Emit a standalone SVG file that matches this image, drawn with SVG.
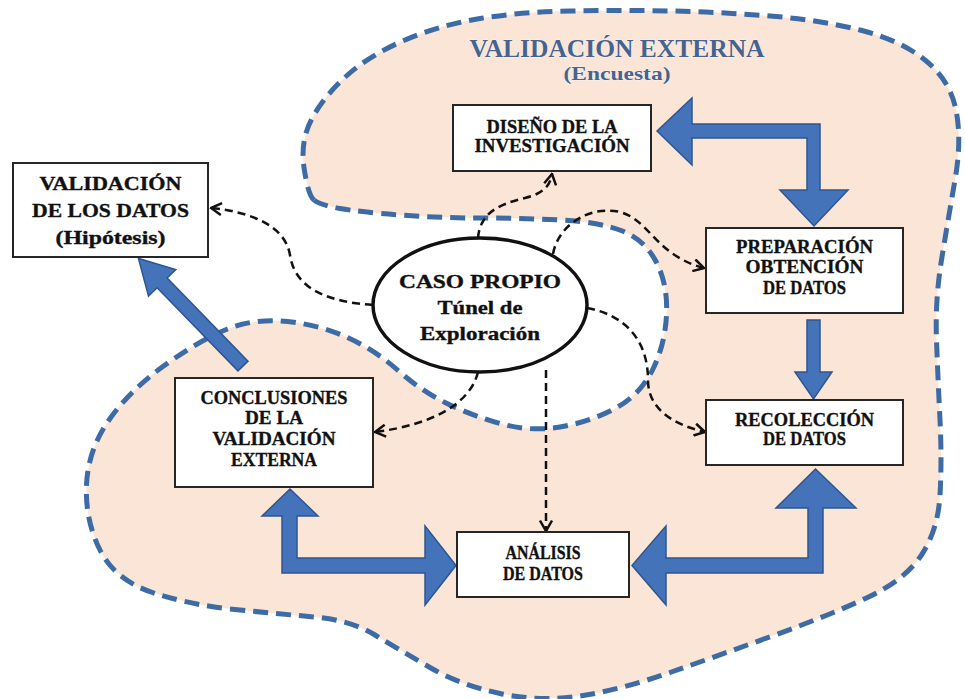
<svg xmlns="http://www.w3.org/2000/svg" width="965" height="699" viewBox="0 0 965 699">
  <style>
    .box { fill: #ffffff; stroke: #262626; stroke-width: 2; }
    .lbl { font-family: "Liberation Serif", "Times New Roman", serif; font-weight: bold; fill: #111; stroke: #111; stroke-width: 0.35; text-anchor: middle; font-size: 19px; }
    .dash { fill: none; stroke: #111; stroke-width: 2.5; stroke-dasharray: 8 5; marker-end: url(#open); }
    .block { fill: #4573b9; stroke: #2d5690; stroke-width: 1.5; stroke-linejoin: miter; }
    .title { font-family: "Liberation Serif", "Times New Roman", serif; font-weight: bold; fill: #46638f; text-anchor: middle; stroke: #ffffff; stroke-width: 0.6; paint-order: stroke; }
  </style>
  <defs>
    <marker id="open" viewBox="0 0 14 14" refX="12.5" refY="7" markerWidth="14" markerHeight="14" markerUnits="userSpaceOnUse" orient="auto">
      <path d="M2,1 L12.5,7 L2,13" fill="none" stroke="#111" stroke-width="2.5"/>
    </marker>
  </defs>

  <rect width="965" height="699" fill="#ffffff"/>

  <!-- survey region: peach area with blue dashed outline -->
  <path id="region" d="M314,200 Q308,195 304,167.5 Q300,140 312.5,117.5 Q325,95 347.5,75 Q370,55 405,40 Q440,25 480,18.5 Q520,12 570,11 Q620,10 670,11 Q720,12 770,16 Q820,20 860,30 Q900,40 925,60 Q950,80 956,110 Q962,140 955,180 Q948,220 941.5,260 Q935,300 936.5,340 Q938,380 940,420 Q942,460 940,495 Q938,530 921.5,555 Q905,580 867.5,597.5 Q830,615 775,635 Q720,655 670,672.5 Q620,690 580,696 Q540,702 500,693.5 Q460,685 430,667.5 Q400,650 375,635 Q350,620 315,617 Q280,614 235,609.5 Q190,605 152.5,592.5 Q115,580 100,550 Q85,520 86.5,485 Q88,450 109,420 Q130,390 165,365 Q200,340 227.5,329 Q255,318 287.5,321.5 Q320,325 347.5,337.5 Q375,350 397.5,370 Q420,390 445,402.5 Q470,415 500,423.5 Q530,432 560,427 Q590,422 615,408.5 Q640,395 652.5,370 Q665,345 666.5,315 Q668,285 656.5,262.5 Q645,240 622.5,231 Q600,222 560,220 Q520,218 480,218 Q440,218 400,215 Q360,212 340,208.5 Q320,205 314,200 Z"
        fill="#fbe5d6" stroke="#3d6ba6" stroke-width="5" stroke-dasharray="15 8"/>

  <g id="region-title">
    <text class="title" x="617" y="57" font-size="25" textLength="295" lengthAdjust="spacingAndGlyphs">VALIDACIÓN EXTERNA</text>
    <text class="title" x="617" y="80" font-size="19" textLength="107" lengthAdjust="spacingAndGlyphs">(Encuesta)</text>
  </g>

  <g id="connectors">
    <!-- block arrows -->
    <polygon class="block" points="657,131 692,98 692,124 820,124 820,190 848,190 814,226 780,190 807,190 807,138 692,138 692,165"/>
    <polygon class="block" points="807,320 820,320 820,372 832,372 813.5,399 795,372 807,372"/>
    <polygon class="block" points="290,489 318,516 297,516 297,558 425,558 425,526 456,565.5 425,605 425,573 282,573 282,516 262,516"/>
    <polygon class="block" points="632,565.5 666,526 666,558 808,558 808,508 776,508 815.5,469 856,508 823,508 823,573 666,573 666,605"/>
    <polygon class="block" transform="translate(243,366) rotate(-134.2)" points="0,-7 116,-7 116,-19 150,0 116,19 116,7 0,7"/>

    <!-- dashed links from the central case -->
    <path class="dash" d="M478,238 C480,215 495,205 525,198 C545,193 550,185 552,174"/>
    <path class="dash" d="M373,305 C330,302 295,290 290,255 C285,225 250,212 211,208"/>
    <path class="dash" d="M553,254 C558,225 590,205 620,212 C650,220 655,255 704,268"/>
    <path class="dash" d="M587,308 C625,315 648,340 648,380 C648,410 675,425 705,432"/>
    <path class="dash" d="M478,372 C470,405 430,425 375,432"/>
    <path class="dash" d="M546,370 L546,531"/>
  </g>

  <g id="diseno">
    <rect class="box" x="453" y="105" width="198" height="66"/>
    <text class="lbl" x="552" y="133" textLength="131" lengthAdjust="spacingAndGlyphs">DISEÑO DE LA</text>
    <text class="lbl" x="552" y="152" textLength="155" lengthAdjust="spacingAndGlyphs">INVESTIGACIÓN</text>
  </g>

  <g id="validacion-datos">
    <rect class="box" x="13" y="163" width="195" height="94"/>
    <text class="lbl" x="110.5" y="190" font-size="22" textLength="142" lengthAdjust="spacingAndGlyphs">VALIDACIÓN</text>
    <text class="lbl" x="110.5" y="217" font-size="22" textLength="157" lengthAdjust="spacingAndGlyphs">DE LOS DATOS</text>
    <text class="lbl" x="110.5" y="244" font-size="21" textLength="110" lengthAdjust="spacingAndGlyphs">(Hipótesis)</text>
  </g>

  <g id="caso-propio">
    <ellipse cx="480" cy="305" rx="107" ry="67" fill="#ffffff" stroke="#111" stroke-width="3.5"/>
    <text class="lbl" x="480" y="288" font-size="23" font-weight="normal" stroke-width="0.2" textLength="162" lengthAdjust="spacingAndGlyphs">CASO PROPIO</text>
    <text class="lbl" x="480" y="314" font-size="22" textLength="85" lengthAdjust="spacingAndGlyphs">Túnel de</text>
    <text class="lbl" x="480" y="340" font-size="22" textLength="120" lengthAdjust="spacingAndGlyphs">Exploración</text>
  </g>

  <g id="conclusiones">
    <rect class="box" x="175" y="378" width="198" height="109"/>
    <text class="lbl" x="274" y="404" textLength="147" lengthAdjust="spacingAndGlyphs">CONCLUSIONES</text>
    <text class="lbl" x="274" y="424" textLength="58" lengthAdjust="spacingAndGlyphs">DE LA</text>
    <text class="lbl" x="274" y="445" textLength="123" lengthAdjust="spacingAndGlyphs">VALIDACIÓN</text>
    <text class="lbl" x="274" y="466" textLength="86" lengthAdjust="spacingAndGlyphs">EXTERNA</text>
  </g>

  <g id="preparacion">
    <rect class="box" x="706" y="228" width="197" height="85"/>
    <text class="lbl" x="804.5" y="253" textLength="137" lengthAdjust="spacingAndGlyphs">PREPARACIÓN</text>
    <text class="lbl" x="804.5" y="273" textLength="118" lengthAdjust="spacingAndGlyphs">OBTENCIÓN</text>
    <text class="lbl" x="804.5" y="294" textLength="83" lengthAdjust="spacingAndGlyphs">DE DATOS</text>
  </g>

  <g id="recoleccion">
    <rect class="box" x="706" y="400" width="197" height="65"/>
    <text class="lbl" x="804.5" y="426" textLength="139" lengthAdjust="spacingAndGlyphs">RECOLECCIÓN</text>
    <text class="lbl" x="804.5" y="445" textLength="83" lengthAdjust="spacingAndGlyphs">DE DATOS</text>
  </g>

  <g id="analisis">
    <rect class="box" x="457" y="532" width="172" height="65"/>
    <text class="lbl" x="543" y="559" textLength="75" lengthAdjust="spacingAndGlyphs">ANÁLISIS</text>
    <text class="lbl" x="543" y="580" textLength="80" lengthAdjust="spacingAndGlyphs">DE DATOS</text>
  </g>
</svg>
